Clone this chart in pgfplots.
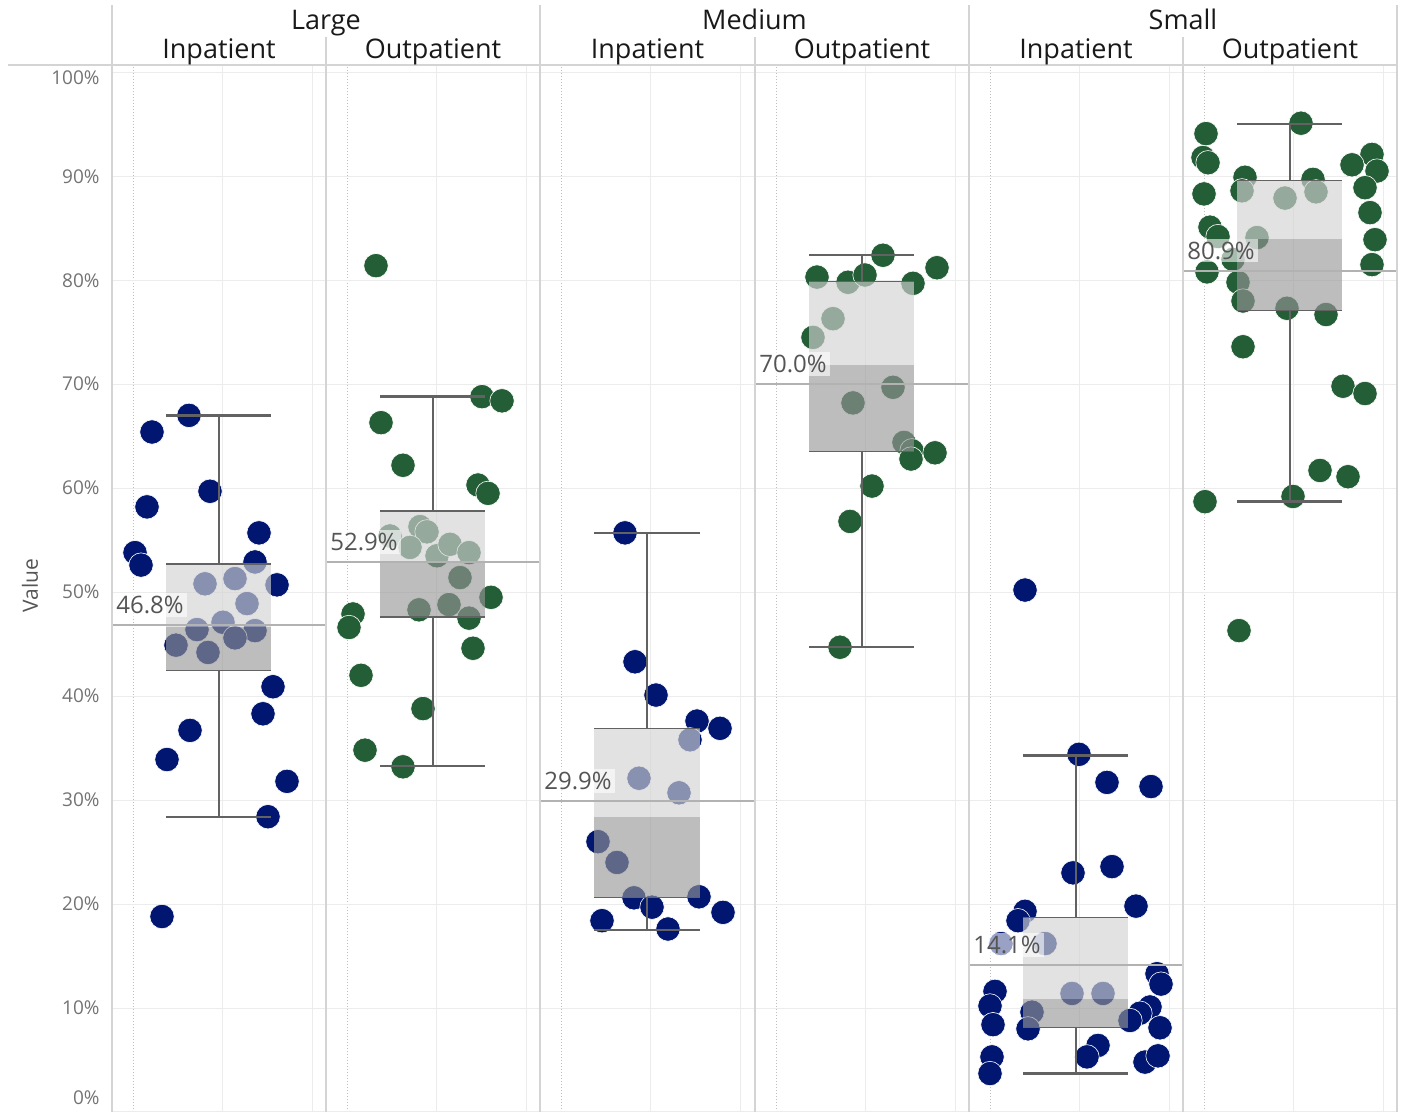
\documentclass[border=0pt]{standalone}
\usepackage{fontspec}
\setmainfont{Open Sans}
\usepackage{pgfplots}
\pgfplotsset{compat=1.18}

\definecolor{navy}{RGB}{0,22,112}
\definecolor{fgreen}{RGB}{36,94,54}
\definecolor{boxlight}{RGB}{211,211,211}
\definecolor{boxdark}{RGB}{151,151,151}
\definecolor{whisk}{RGB}{98,98,98}
\definecolor{refln}{RGB}{178,178,178}
\definecolor{gridc}{RGB}{236,236,236}
\definecolor{dotc}{RGB}{190,190,190}
\definecolor{divc}{RGB}{212,212,212}
\definecolor{ticktxt}{RGB}{115,115,115}
\definecolor{labtxt}{RGB}{85,85,85}

% box: left, centre, right, low whisker, q1, median, q3, high whisker
\newcommand{\boxpane}[8]{%
  \addplot[draw=none, fill=boxdark, fill opacity=0.63] coordinates {(#1,#5) (#3,#5) (#3,#6) (#1,#6)};
  \addplot[draw=none, fill=boxlight, fill opacity=0.65] coordinates {(#1,#6) (#3,#6) (#3,#7) (#1,#7)};
  \addplot[whisk, line width=0.6pt] coordinates {(#1,#5) (#3,#5)};
  \addplot[whisk, line width=0.6pt] coordinates {(#1,#7) (#3,#7)};
  \addplot[whisk, line width=0.75pt] coordinates {(#2,#7) (#2,#8)};
  \addplot[whisk, line width=0.75pt] coordinates {(#2,#4) (#2,#5)};
  \addplot[whisk, line width=1.2pt] coordinates {(#1,#8) (#3,#8)};
  \addplot[whisk, line width=1.2pt] coordinates {(#1,#4) (#3,#4)};
}
% reference line: pane left, pane right, value, label
\newcommand{\refpane}[4]{%
  \addplot[refln, line width=1pt] coordinates {(#1,#3) (#2,#3)};
  \node[anchor=south west, xshift=0.5pt, yshift=4pt, inner sep=1.5pt,
        fill=white, fill opacity=0.6, text opacity=1, text=labtxt,
        font=\fontsize{12}{14}\selectfont] at (axis cs:#1,#3) {#4};
}

\begin{document}
\begin{tikzpicture}
\useasboundingbox (0,0) rectangle (702.5pt,556pt);
% vertical grid lines inside the panes, pixel units
\begin{scope}[x=0.5pt, y=0.5pt]
  \foreach \xx in {222,312,436,526,650,740,865,955,1079,1169,1293,1383}
    \draw[gridc, line width=0.5pt] (\xx,0) -- (\xx,1047);
  \foreach \xx in {133,347,561,776,990,1204}
    \draw[dotc, densely dotted, line width=0.5pt] (\xx,0) -- (\xx,1047);
\end{scope}
\begin{axis}[
  at={(56pt,0pt)}, anchor=south west,
  scale only axis, width=642.5pt, height=523.5pt,
  xmin=112, xmax=1397, ymin=0, ymax=100.7,
  clip mode=individual,
  axis line style={draw=none},
  major tick length=0pt,
  xtick=\empty,
  ytick={0,10,...,100},
  yticklabels={\raisebox{7pt}[\height][\depth]{0\%},10\%,20\%,30\%,40\%,50\%,60\%,70\%,80\%,90\%,\raisebox{-2.5pt}[\height][\depth]{100\%}},
  yticklabel style={font=\fontsize{9.5}{11}\selectfont, text=ticktxt, inner sep=0pt, xshift=-6pt},
  ymajorgrids,
  major grid style={color=gridc, line width=0.5pt},
  ylabel={Value},
  every axis y label/.style={at={(axis description cs:0,0.503)}, xshift=-41pt, rotate=90,
    anchor=center, font=\fontsize{10.5}{12}\selectfont, text=labtxt},
  inner/.style={only marks, mark=*, mark size=6.1pt, mark options={fill=navy, draw=white, line width=0.3pt}},
  outer/.style={only marks, mark=*, mark size=6.1pt, mark options={fill=fgreen, draw=white, line width=0.3pt}},
]
% Large
\addplot[inner] coordinates {(189,67.0) (152,65.4) (210,59.7) (147,58.2) (259,55.7) (135,53.8) (141,52.6) (255,52.9) (277,50.7) (205,50.8) (235,51.3) (247,48.9) (223,47.1) (197,46.4) (255,46.3) (176,44.9) (235,45.6) (208,44.2) (273,40.9) (263,38.3) (190,36.7) (167,33.9) (287,31.8) (268,28.4) (162,18.8)};
\addplot[outer] coordinates {(376,81.4) (482,68.8) (502,68.4) (381,66.3) (403,62.2) (478,60.3) (488,59.5) (390,55.4) (420,56.3) (427,55.8) (410,54.3) (437,53.5) (450,54.6) (469,53.8) (460,51.4) (491,49.5) (419,48.3) (449,48.8) (469,47.5) (353,47.9) (349,46.6) (473,44.6) (361,42.0) (423,38.8) (365,34.8) (403,33.2)};
% Medium
\addplot[inner] coordinates {(625,55.7) (635,43.3) (656,40.1) (697,37.6) (720,36.9) (690,35.8) (639,32.1) (679,30.7) (598,26.0) (617,24.0) (634,20.6) (652,19.7) (699,20.7) (723,19.2) (602,18.4) (668,17.6)};
\addplot[outer] coordinates {(883,82.4) (937,81.2) (817,80.3) (848,79.8) (865,80.5) (913,79.7) (833,76.3) (813,74.5) (893,69.7) (853,68.2) (904,64.4) (912,63.6) (911,62.8) (935,63.4) (872,60.2) (850,56.8) (840,44.7)};
% Small
\addplot[inner] coordinates {(1025,50.2) (1079,34.4) (1107,31.7) (1151,31.3) (1073,23.0) (1112,23.6) (1136,19.8) (1025,19.3) (1018,18.4) (1001,16.2) (1045,16.2) (1157,13.3) (1161,12.3) (995,11.6) (1072,11.4) (1103,11.4) (990,10.2) (1150,10.1) (1140,9.5) (1130,8.8) (1032,9.6) (1028,8.0) (993,8.4) (1160,8.1) (1098,6.4) (1087,5.3) (992,5.3) (1145,4.8) (1158,5.4) (990,3.7)};
\addplot[outer] coordinates {(1301,95.1) (1206,94.1) (1203,91.8) (1208,91.3) (1372,92.1) (1352,91.1) (1377,90.5) (1365,88.9) (1204,88.3) (1245,89.9) (1242,88.6) (1313,89.7) (1316,88.5) (1285,87.9) (1370,86.5) (1210,85.1) (1218,84.2) (1375,83.9) (1257,84.1) (1233,82.0) (1372,81.5) (1207,80.8) (1238,79.8) (1243,78.0) (1287,77.3) (1326,76.7) (1243,73.6) (1343,69.8) (1365,69.1) (1320,61.7) (1348,61.1) (1293,59.2) (1205,58.7) (1239,46.3)};

\boxpane{166}{219}{271}{28.4}{42.5}{46.6}{52.7}{67.0}
\boxpane{380}{433}{485}{33.3}{47.6}{52.9}{57.8}{68.8}
\boxpane{594}{647}{700}{17.5}{20.6}{28.4}{36.9}{55.7}
\boxpane{809}{862}{914}{44.7}{63.5}{71.8}{79.9}{82.4}
\boxpane{1023}{1076}{1128}{3.7}{8.1}{10.9}{18.7}{34.3}
\boxpane{1237}{1290}{1342}{58.7}{77.1}{84.0}{89.6}{95.0}

\refpane{112}{326}{46.8}{46.8\%}
\refpane{326}{540}{52.9}{52.9\%}
\refpane{540}{755}{29.9}{29.9\%}
\refpane{755}{969}{70.0}{70.0\%}
\refpane{969}{1183}{14.1}{14.1\%}
\refpane{1183}{1397}{80.9}{80.9\%}
\end{axis}

% header and pane dividers, in pixel units (origin bottom left)
\begin{scope}[x=0.5pt, y=0.5pt]
  \draw[divc, line width=0.75pt] (8,1047) -- (1397,1047);
  \foreach \xx in {112,540,969,1397} \draw[divc, line width=0.75pt] (\xx,0) -- (\xx,1107);
  \foreach \xx in {326,755,1183} \draw[divc, line width=0.75pt] (\xx,0) -- (\xx,1075);
  \begin{scope}[every node/.style={anchor=base, text=black!90, font=\fontsize{13.5}{16}\selectfont}]
    \node at (326,1082) {Large};
    \node at (754.5,1082) {Medium};
    \node at (1183,1082) {Small};
    \node at (219,1053) {Inpatient};
    \node at (433,1053) {Outpatient};
    \node at (647.5,1053) {Inpatient};
    \node at (862,1053) {Outpatient};
    \node at (1076,1053) {Inpatient};
    \node at (1290,1053) {Outpatient};
  \end{scope}
\end{scope}
\end{tikzpicture}
\end{document}
